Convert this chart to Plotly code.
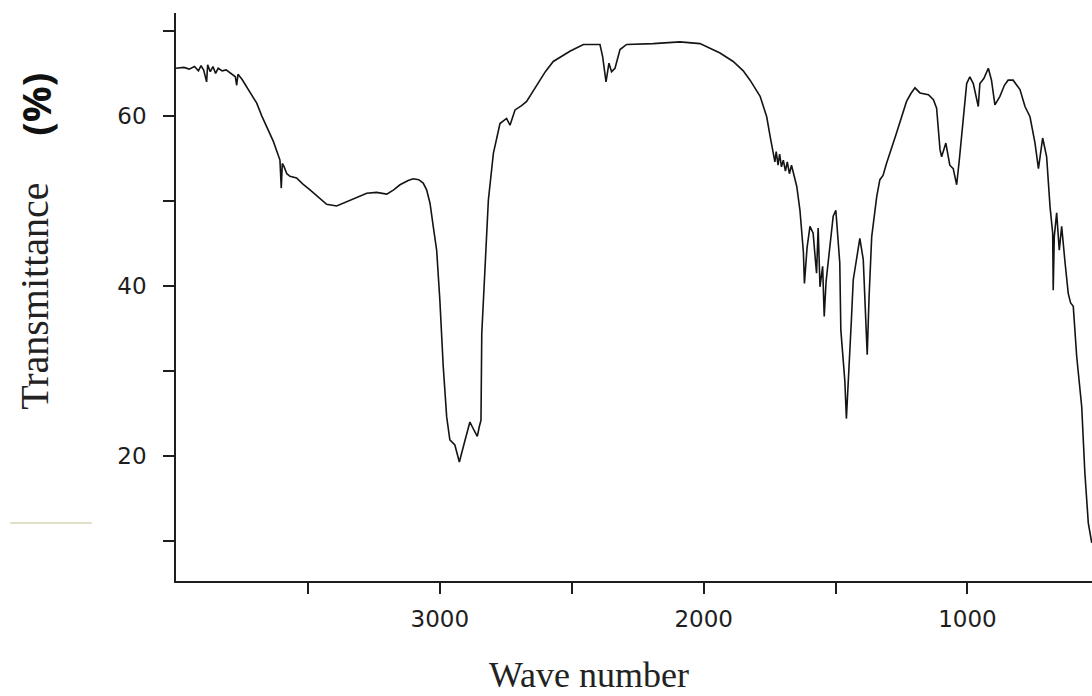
import plotly.graph_objects as go

# Wavenumber (cm^-1) and transmittance (%)
wavenumber = [
    4000, 3970, 3950, 3930, 3915, 3905, 3895, 3884, 3880, 3870, 3860, 3850, 3840, 3825,
    3810, 3790, 3775, 3770, 3765, 3750, 3732, 3715, 3694, 3675, 3656, 3631, 3606, 3601,
    3597, 3590, 3580, 3568, 3543, 3520, 3492, 3460, 3429, 3391, 3360, 3341, 3310, 3277,
    3240, 3201, 3175, 3151, 3120, 3101, 3080, 3063, 3050, 3037, 3025, 3012, 3000, 2987,
    2974, 2962, 2943, 2926, 2905, 2886, 2870, 2858, 2850, 2844, 2841, 2829, 2816, 2797,
    2772, 2747, 2734, 2715, 2690, 2671, 2633, 2600, 2570, 2507, 2456, 2393, 2383, 2370,
    2359, 2349, 2336, 2317, 2292, 2191, 2090, 2014, 1938, 1888, 1850, 1824, 1786, 1761,
    1748, 1736, 1730, 1725, 1718, 1712, 1705, 1698, 1690, 1683, 1675, 1667, 1660, 1652,
    1647, 1635, 1622, 1618, 1608, 1597, 1585, 1575, 1572, 1566, 1559, 1549, 1543, 1536,
    1528, 1509, 1499, 1490, 1484, 1480, 1471, 1465, 1459, 1452, 1446, 1440, 1433, 1420,
    1408, 1395, 1385, 1380, 1373, 1363, 1344, 1332, 1320, 1307, 1269, 1231, 1215, 1199,
    1180, 1148, 1129, 1117, 1104, 1098, 1082, 1067, 1054, 1041, 1031, 1016, 1003, 991,
    978, 959, 953, 938, 921, 909, 896, 877, 860, 846, 827, 801, 782, 763,
    744, 731, 715, 700, 687, 677, 675, 671, 662, 652, 643, 630, 618, 609,
    599, 586, 567, 555, 542, 529,
]
transmittance = [
    65.6, 65.7, 65.5, 65.8, 65.3, 65.9, 65.4, 64.0, 66.0, 65.2, 65.8, 65.0, 65.6, 65.3,
    65.4, 65.0, 64.6, 63.6, 64.9, 64.3, 63.4, 62.6, 61.5, 60.0, 58.7, 57.0, 54.8, 51.5,
    54.4, 54.0, 53.2, 52.9, 52.7, 52.0, 51.3, 50.4, 49.6, 49.4, 49.8, 50.1, 50.5, 50.9,
    51.0, 50.8, 51.3, 51.9, 52.4, 52.6, 52.5, 52.1, 51.3, 49.7, 47.0, 44.2, 38.4, 30.5,
    24.6, 21.9, 21.3, 19.3, 21.8, 24.0, 23.0, 22.3, 23.5, 24.2, 34.4, 42.3, 50.1, 55.6,
    59.1, 59.7, 58.9, 60.7, 61.2, 61.7, 63.5, 65.2, 66.4, 67.6, 68.4, 68.4, 67.0, 64.0,
    66.2, 65.2, 65.6, 67.8, 68.4, 68.5, 68.7, 68.5, 67.4, 66.4, 65.3, 64.2, 62.3, 59.9,
    57.6, 55.6, 54.6, 55.8, 54.2, 55.5, 54.0, 54.8, 53.5, 54.6, 53.2, 54.2, 53.2, 52.0,
    51.7, 48.9, 44.0, 40.3, 44.5, 47.0, 46.2, 42.5, 41.5, 46.8, 39.9, 42.3, 36.4, 40.5,
    42.7, 48.2, 48.9, 45.5, 42.7, 34.8, 30.9, 28.9, 24.4, 28.2, 32.1, 36.0, 40.7, 43.5,
    45.6, 43.1, 36.0, 31.9, 38.7, 45.8, 50.5, 52.5, 53.0, 54.4, 58.0, 61.7, 62.6, 63.3,
    62.7, 62.5, 61.9, 60.9, 56.0, 55.2, 56.8, 54.2, 53.8, 51.9, 54.8, 59.9, 63.8, 64.6,
    63.8, 61.1, 63.8, 64.4, 65.6, 64.2, 61.3, 62.3, 63.6, 64.2, 64.2, 63.1, 61.1, 59.9,
    56.8, 53.8, 57.4, 55.2, 49.3, 46.2, 39.5, 45.8, 48.6, 44.2, 47.0, 42.7, 39.1, 38.0,
    37.6, 31.7, 25.8, 18.0, 12.1, 9.8,
]

x_tick_values = [3500, 3000, 2500, 2000, 1500, 1000]
x_tick_labels = ["", "3000", "", "2000", "", "1000"]
y_tick_values = [10, 20, 30, 40, 50, 60, 70]
y_tick_labels = ["", "20", "", "40", "", "60", ""]

fig = go.Figure()
fig.add_trace(go.Scatter(
    x=wavenumber, y=transmittance, mode="lines",
    line=dict(color="#141414", width=1.6),
    showlegend=False, hoverinfo="skip",
))

tick_font = dict(family="DejaVu Sans", size=23, color="#1e1e1e")

fig.update_layout(
    width=1092, height=696,
    margin=dict(l=176, r=0, t=13, b=115),
    paper_bgcolor="white", plot_bgcolor="white",
    xaxis=dict(
        range=[4000, 528], tickmode="array", tickvals=x_tick_values, ticktext=x_tick_labels,
        ticks="outside", ticklen=11, tickwidth=1.5, tickcolor="#1e1e1e",
        showline=True, linecolor="#1e1e1e", linewidth=1.6, mirror=False,
        showgrid=False, zeroline=False, tickfont=tick_font, ticklabelstandoff=6,
    ),
    yaxis=dict(
        range=[5.3, 72.1], tickmode="array", tickvals=y_tick_values, ticktext=y_tick_labels,
        ticks="outside", ticklen=11, tickwidth=1.5, tickcolor="#1e1e1e",
        showline=True, linecolor="#1e1e1e", linewidth=1.6, mirror=False,
        showgrid=False, zeroline=False, tickfont=tick_font, ticklabelstandoff=12,
    ),
    annotations=[
        dict(text="Transmittance", xref="paper", yref="paper", x=-0.154, y=0.502,
             xanchor="center", yanchor="middle", textangle=-90, showarrow=False,
             font=dict(family="Liberation Serif", size=40, color="#222222")),
        dict(text="<b>(%)</b>", xref="paper", yref="paper", x=-0.153, y=0.84,
             xanchor="center", yanchor="middle", textangle=-90, showarrow=False,
             font=dict(family="Open Sans", size=40, color="#111111")),
        dict(text="Wave number", xref="paper", yref="paper", x=0.451, y=-0.1655,
             xanchor="center", yanchor="middle", showarrow=False,
             font=dict(family="Liberation Serif", size=36, color="#222222")),
    ],
    shapes=[
        dict(type="line", xref="paper", yref="paper", x0=-0.181, x1=-0.092, y0=0.102, y1=0.102,
             line=dict(color="#d9d5b4", width=1.5)),
    ],
)

# Remove the default page margin so the figure fills the window exactly
fig.write_html(
    "out.html",
    config={"displayModeBar": False},
    post_script="document.body.style.margin='0px';document.documentElement.style.overflow='hidden';document.body.style.overflow='hidden';",
)
